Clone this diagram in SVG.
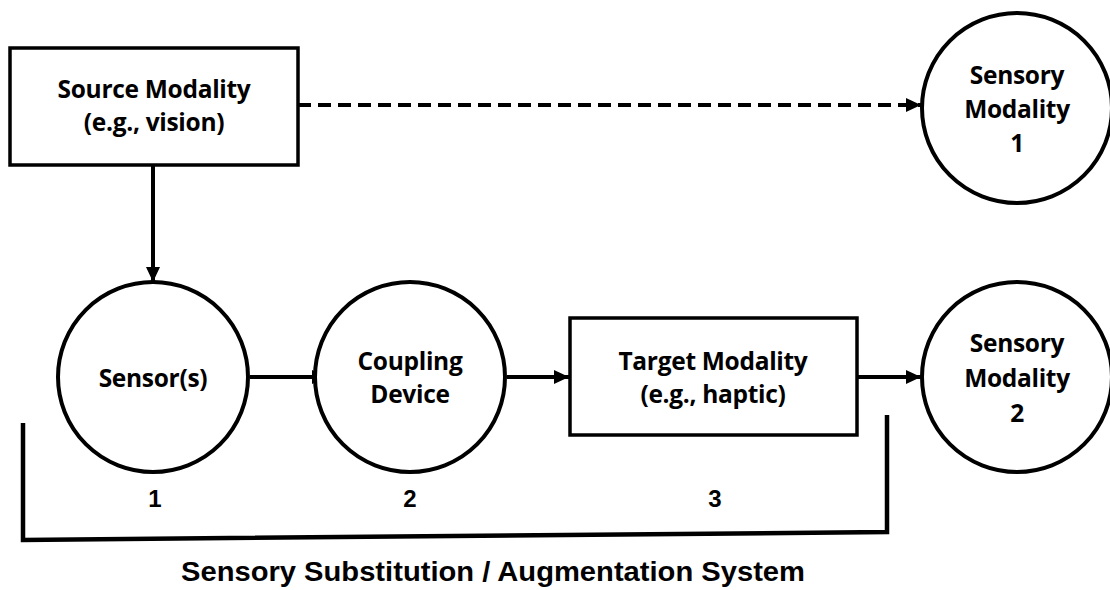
<svg xmlns="http://www.w3.org/2000/svg" width="1110" height="590" viewBox="0 0 1110 590">
  <style>
    .box { fill: #fff; stroke: #000; stroke-width: 3.5; }
    .node { fill: #fff; stroke: #000; stroke-width: 4; }
    .label { font-family: "Open Sans", Lato, "Liberation Sans", sans-serif; font-weight: 700; font-size: 24.5px; letter-spacing: -0.3px; fill: #000; text-anchor: middle; }
    .num { font-family: "Liberation Sans", Arial, sans-serif; font-weight: 700; font-size: 24px; fill: #000; text-anchor: middle; }
    .title { font-family: "Liberation Sans", Arial, sans-serif; font-weight: 700; font-size: 27px; fill: #000; text-anchor: middle; }
    .link { fill: none; stroke: #000; stroke-width: 4; }
    .dashed { stroke-dasharray: 13 7; }
    .bracket { fill: none; stroke: #000; stroke-width: 4.5; stroke-linejoin: miter; }
  </style>
  <defs>
    <marker id="arrow" markerUnits="userSpaceOnUse" markerWidth="16" markerHeight="14" refX="15" refY="7" orient="auto">
      <path d="M0,0 L15,7 L0,14 Z" fill="#000"/>
    </marker>
  </defs>

  <rect width="1110" height="590" fill="#fff"/>

  <!-- connectors -->
  <g id="connectors">
    <line class="link dashed" x1="298" y1="105" x2="921" y2="105" marker-end="url(#arrow)"/>
    <line class="link" x1="153" y1="165" x2="153" y2="282" marker-end="url(#arrow)"/>
    <line class="link" x1="250" y1="377" x2="327" y2="377" marker-end="url(#arrow)"/>
    <line class="link" x1="507" y1="377" x2="569" y2="377" marker-end="url(#arrow)"/>
    <line class="link" x1="857" y1="377" x2="921" y2="377" marker-end="url(#arrow)"/>
  </g>

  <g id="source-modality">
    <rect class="box" x="10" y="48" width="288" height="117"/>
    <text class="label" x="154" y="98">Source Modality</text>
    <text class="label" x="154" y="131">(e.g., vision)</text>
  </g>

  <g id="sensory-modality-1">
    <circle class="node" cx="1017" cy="108" r="95"/>
    <text class="label" x="1017" y="84">Sensory</text>
    <text class="label" x="1017" y="118">Modality</text>
    <text class="label" x="1017" y="152">1</text>
  </g>

  <g id="sensors">
    <circle class="node" cx="153" cy="377" r="95"/>
    <text class="label" x="153" y="387">Sensor(s)</text>
  </g>

  <g id="coupling-device">
    <circle class="node" cx="410" cy="377" r="95"/>
    <text class="label" x="410" y="370">Coupling</text>
    <text class="label" x="410" y="403">Device</text>
  </g>

  <g id="target-modality">
    <rect class="box" x="570" y="318" width="287" height="117"/>
    <text class="label" x="713" y="370">Target Modality</text>
    <text class="label" x="713" y="403">(e.g., haptic)</text>
  </g>

  <g id="sensory-modality-2">
    <circle class="node" cx="1017" cy="377" r="95"/>
    <text class="label" x="1017" y="352">Sensory</text>
    <text class="label" x="1017" y="387">Modality</text>
    <text class="label" x="1017" y="422">2</text>
  </g>

  <!-- system bracket with stage numbers -->
  <g id="system">
    <path class="bracket" d="M23,423 L23,540 L887,532 L887,415"/>
    <text class="num" x="155" y="507">1</text>
    <text class="num" x="410" y="507">2</text>
    <text class="num" x="715" y="507">3</text>
    <text class="title" x="493" y="581" textLength="624" lengthAdjust="spacingAndGlyphs">Sensory Substitution / Augmentation System</text>
  </g>
</svg>
